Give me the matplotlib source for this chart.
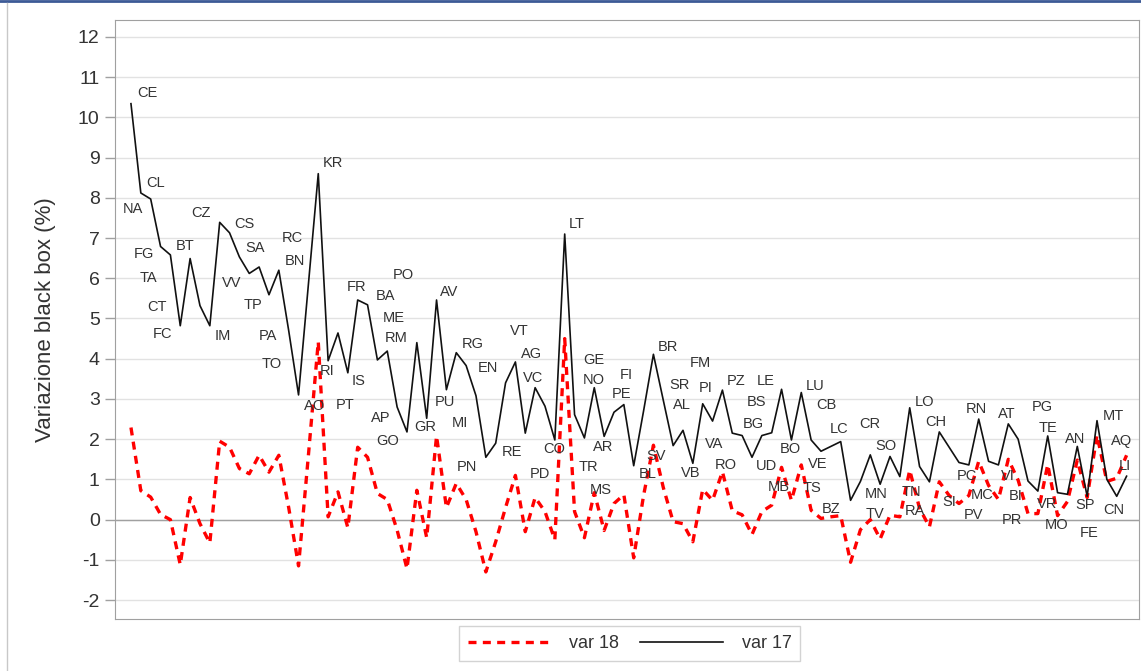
import numpy as np
import matplotlib
matplotlib.use("Agg")
import matplotlib.pyplot as plt
from matplotlib.lines import Line2D

plt.rcParams['font.family'] = ['Liberation Sans', 'DejaVu Sans']
plt.rcParams['axes.unicode_minus'] = False

# province codes in plotting order
prov = ['CE', 'NA', 'CL', 'FG', 'TA', 'FC', 'BT', 'CT', 'IM', 'CZ',
        'CS', 'SA', 'VV', 'TP', 'PA', 'RC', 'TO', 'AO', 'BN', 'KR',
        'RI', 'PT', 'IS', 'FR', 'BA', 'ME', 'RM', 'AP', 'GO', 'PO',
        'GR', 'AV', 'PU', 'RG', 'MI', 'EN', 'PN', 'RE', 'VT', 'AG',
        'PD', 'VC', 'CO', 'TR', 'LT', 'GE', 'MS', 'NO', 'AR', 'PE',
        'FI', 'BL', 'SV', 'BR', 'SR', 'AL', 'FM', 'VB', 'PI', 'VA',
        'PZ', 'RO', 'BG', 'UD', 'BS', 'MB', 'LE', 'BO', 'LU', 'TS',
        'VE', 'CB', 'LC', 'BZ', 'MN', 'CR', 'TV', 'SO', 'TN', 'LO',
        'RA', 'SI', 'CH', 'PC', 'PV', 'MC', 'RN', 'VI', 'BI', 'AT',
        'PG', 'PR', 'MO', 'TE', 'VR', 'FE', 'AN', 'SP', 'MT', 'AQ',
        'CN', 'LI']

# variazione black box (%), var 17
var17 = [10.34, 8.12, 7.97, 6.79, 6.58, 4.82, 6.49, 5.32, 4.82, 7.39,
         7.13, 6.53, 6.12, 6.28, 5.59, 6.20, 4.70, 3.10, 5.85, 8.60,
         3.95, 4.64, 3.65, 5.46, 5.34, 3.97, 4.19, 2.80, 2.18, 4.40,
         2.52, 5.46, 3.23, 4.15, 3.83, 3.08, 1.55, 1.90, 3.40, 3.92,
         2.15, 3.28, 2.82, 1.98, 7.10, 2.61, 2.03, 3.28, 2.07, 2.67,
         2.86, 1.34, 2.70, 4.11, 2.97, 1.84, 2.22, 1.40, 2.88, 2.45,
         3.22, 2.15, 2.09, 1.55, 2.09, 2.16, 3.24, 1.98, 3.16, 1.98,
         1.70, 1.82, 1.94, 0.48, 0.95, 1.61, 0.88, 1.57, 1.07, 2.78,
         1.32, 0.94, 2.18, 1.80, 1.42, 1.36, 2.50, 1.45, 1.36, 2.38,
         2.00, 0.96, 0.71, 2.08, 0.67, 0.63, 1.82, 0.58, 2.46, 1.00,
         0.58, 1.08]

# var 18
var18 = [2.29, 0.72, 0.56, 0.13, 0.00, -1.12, 0.55, -0.10, -0.58, 1.95,
         1.80, 1.27, 1.14, 1.60, 1.18, 1.60, 0.30, -1.15, 1.60, 4.42,
         0.07, 0.69, -0.20, 1.80, 1.55, 0.65, 0.50, -0.26, -1.22, 0.73,
         -0.45, 2.08, 0.30, 0.90, 0.50, -0.30, -1.30, -0.55, 0.30, 1.10,
         -0.30, 0.55, 0.20, -0.50, 4.50, 0.20, -0.45, 0.67, -0.27, 0.40,
         0.62, -0.95, 0.60, 1.85, 0.80, -0.05, -0.10, -0.55, 0.75, 0.48,
         1.19, 0.22, 0.12, -0.37, 0.20, 0.36, 1.30, 0.48, 1.36, 0.23,
         0.03, 0.07, 0.10, -1.06, -0.25, 0.00, -0.48, 0.11, 0.07, 1.23,
         0.28, -0.18, 0.94, 0.60, 0.40, 0.60, 1.45, 0.85, 0.50, 1.50,
         0.98, 0.15, 0.15, 1.37, 0.10, 0.45, 1.48, 0.55, 2.10, 0.95,
         1.03, 1.60]

# label offsets from their point, in pixels (right, down)
lab_dx = [16, -8, 5, -17, -22, -18, -5, -43, 13, -19,
          15, 16, -18, -6, -1, 13, -17, 16, -13, 15,
          -1, 7, 11, -1, 18, 16, 9, -16, -19, -14,
          -1, 13, -1, 16, -6, 12, -19, 16, 14, 16,
          15, -2, 9, 34, 12, 19, 16, -1, -1, 8,
          2, 14, 13, 15, 16, 9, 17, -2, 3, 2,
          14, -7, 11, 15, -5, 7, -16, -1, 14, 1,
          -3, -4, -2, -19, 16, 0, -5, -4, 12, 15,
          -5, 20, -3, 18, 14, 13, -2, 19, 17, -2,
          24, -16, 19, 0, -10, 22, -2, -2, 16, 15,
          -3, -2]
lab_dy = [-11, 16, -16, 8, 23, 8, -13, 1, 10, -9,
          -9, -9, 10, 38, 41, -32, 33, 11, -23, -11,
          10, 72, 8, -13, -9, -42, -13, 11, 9, -68,
          9, -8, 12, -9, 57, -28, 10, 9, -52, -8,
          41, -10, 43, 27, -10, -55, 52, -8, 11, -18,
          -30, 8, 45, -7, -15, -41, -67, 10, -16, 23,
          -9, 32, -12, 9, -34, 54, -8, 9, -7, 48,
          13, -41, -13, 9, 13, -31, 30, -10, 15, -6,
          44, 20, -10, 29, 52, 30, -10, 15, 31, -10,
          -32, 39, 34, -8, 11, 39, -7, 9, -5, -38,
          14, -10]

x = np.arange(len(prov))

fig = plt.figure(figsize=(11.41, 6.71), dpi=100)
ax = fig.add_axes([115 / 1141, 52 / 671, 1024 / 1141, 599 / 671])

ax.yaxis.grid(True, color='#e2e2e2', lw=1)
ax.set_axisbelow(True)
ax.axhline(0, color='#a0a0a0', lw=1, zorder=1)

red, = ax.plot(x, var18, color='#ff0000', lw=2.4, dashes=(2.4, 1.9),
               dash_capstyle='butt', zorder=2)
blk, = ax.plot(x, var17, color='#111111', lw=1.2, zorder=3)

for i in range(len(prov)):
    ax.annotate(prov[i], (x[i], var17[i]),
                xytext=(lab_dx[i] * 0.72, -lab_dy[i] * 0.72),
                textcoords='offset points', ha='center', va='center',
                fontsize=10.5, color='#333333')

ax.set_xlim(-1.62, 102.26)
ax.set_ylim(-2.47, 12.42)
ax.set_yticks(range(-2, 13))
ax.set_xticks([])
ax.tick_params(axis='y', length=7, width=1, color='#a0a0a0',
               labelsize=14, labelcolor='#333333', pad=4)
for s in ax.spines.values():
    s.set_color('#a0a0a0')
ax.set_ylabel('Variazione black box (%)', fontsize=16, color='#333333',
              labelpad=16)

leg = ax.legend([red, blk], ['var 18', 'var 17'], loc='center',
                bbox_to_anchor=(629.5 / 1141, 27.5 / 671),
                bbox_transform=fig.transFigure, ncol=2, fancybox=False,
                edgecolor='#c8c8c8', handlelength=4.6, handletextpad=1.0,
                columnspacing=1.2, fontsize=13, borderpad=0.5)
for t in leg.get_texts():
    t.set_color('#333333')

# window border from the screenshot
fig.add_artist(Line2D([0, 1], [0.998, 0.998], color='#3c5a96', lw=2))
fig.add_artist(Line2D([7 / 1141, 7 / 1141], [0, 0.995], color='#c8c8c8', lw=1))

fig.savefig('out.png', dpi=100)
